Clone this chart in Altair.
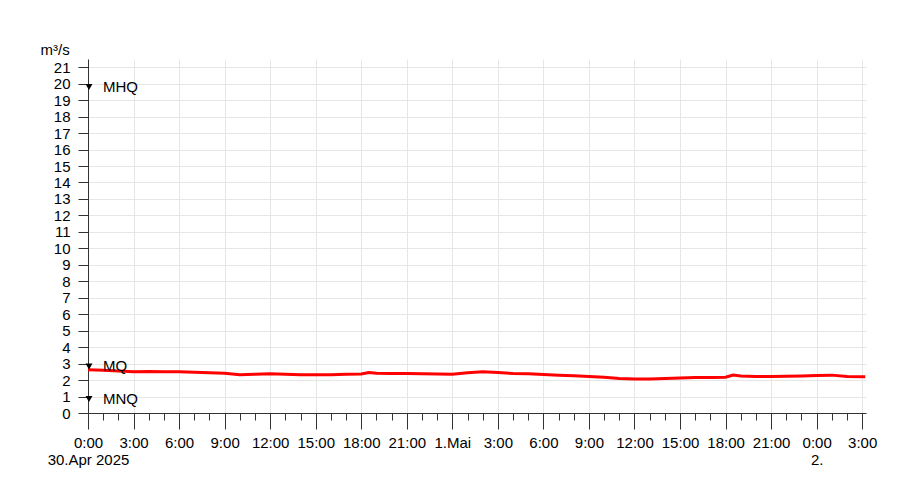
import altair as alt
import pandas as pd

# Flow series: hours since 30.Apr 2025 0:00 and discharge in m³/s
hours = [0, 1, 2, 3, 4, 5, 6, 7, 8, 9, 10, 11, 12, 13, 14, 15, 16, 17, 18, 18.5,
         19, 20, 21, 22, 23, 24, 25, 26, 27, 28, 29, 30, 31, 32, 33, 34, 35, 36,
         37, 38, 39, 40, 41, 42, 42.5, 43, 44, 45, 46, 47, 48, 49, 50, 51, 51.2]
flow = [2.62, 2.60, 2.55, 2.50, 2.52, 2.50, 2.50, 2.47, 2.45, 2.42, 2.33, 2.36,
        2.38, 2.35, 2.33, 2.32, 2.32, 2.35, 2.37, 2.46, 2.42, 2.40, 2.40, 2.38,
        2.37, 2.36, 2.45, 2.50, 2.46, 2.40, 2.38, 2.34, 2.30, 2.26, 2.22, 2.17,
        2.10, 2.07, 2.07, 2.10, 2.13, 2.15, 2.15, 2.17, 2.30, 2.25, 2.22, 2.22,
        2.23, 2.25, 2.27, 2.30, 2.22, 2.20, 2.20]

# Reference levels
ref_names = ["MHQ", "MQ", "MNQ"]
ref_values = [19.8, 2.83, 0.85]

# Axis ticks and labels
x_ticks = list(range(0, 52))
x_label_hours = [0, 24, 48]
x_label_texts = [["0:00", "30.Apr 2025"], ["1.Mai"], ["0:00", "2."]]
y_ticks = list(range(0, 22))

df = pd.DataFrame({"h": hours, "q": flow})
ref_df = pd.DataFrame({"name": ref_names, "v": ref_values, "h": [0] * len(ref_names)})

special = " : ".join(
    f"datum.value == {h} ? {txt if len(txt) > 1 else repr(txt[0])}"
    for h, txt in zip(x_label_hours, x_label_texts)
)
label_expr = (special +
              " : datum.value % 3 == 0 ? (datum.value % 24) + ':00' : ''")

FONT = "Liberation Sans"

x_scale = alt.Scale(domain=[0, 51.25], nice=False, zero=False)
y_scale = alt.Scale(domain=[0, 21.5], nice=False)

x_axis = alt.Axis(
    values=x_ticks,
    labelExpr=label_expr,
    labelOverlap=False,
    labelFlush=False,
    labelFont=FONT,
    labelFontSize=15,
    labelColor="black",
    labelPadding=6,
    labelLineHeight=17,
    labelBaseline="top",
    tickSize={"condition": {"test": "datum.value % 3 != 0", "value": 7}, "value": 16},
    tickColor="#333333",
    domainColor="#333333",
    grid=True,
    gridColor="#e6e6e6",
    gridOpacity={"condition": {"test": "datum.value % 3 != 0", "value": 0}, "value": 1},
    title=None,
)

y_axis = alt.Axis(
    values=y_ticks,
    labelFont=FONT,
    labelFontSize=15,
    labelColor="black",
    labelPadding=8,
    labelOverlap=False,
    tickSize=10,
    tickColor="#333333",
    domainColor="#333333",
    grid=True,
    gridColor="#e6e6e6",
    title="m³/s",
    titleFont=FONT,
    titleFontSize=15,
    titleFontWeight="normal",
    titleColor="black",
    titleAngle=0,
    titleAlign="left",
    titleBaseline="alphabetic",
    titleX=-48,
    titleY=-5,
)

X = alt.X("h:Q", scale=x_scale, axis=x_axis)

line = alt.Chart(df).mark_line(color="#ff0000", strokeWidth=3).encode(
    x=X,
    y=alt.Y("q:Q", scale=y_scale, axis=y_axis),
)

tri = alt.Chart(ref_df).mark_point(
    shape="triangle-down", filled=True, color="black", size=48, opacity=1, xOffset=1
).encode(
    x=X,
    y=alt.Y("v:Q", scale=y_scale, axis=y_axis),
)

txt = alt.Chart(ref_df).mark_text(
    align="left", baseline="middle", dx=15, font=FONT, fontSize=15, color="black"
).encode(
    x=X,
    y=alt.Y("v:Q", scale=y_scale, axis=y_axis),
    text="name:N",
)

chart = alt.layer(line, tri, txt).properties(
    width=778,
    height=354,
    autosize=alt.AutoSizeParams(type="none"),
    padding={"left": 80, "top": 51, "right": 26, "bottom": 75},
).configure_view(stroke=None)

chart.save("out.html", embed_options={"renderer": "svg", "actions": False})
